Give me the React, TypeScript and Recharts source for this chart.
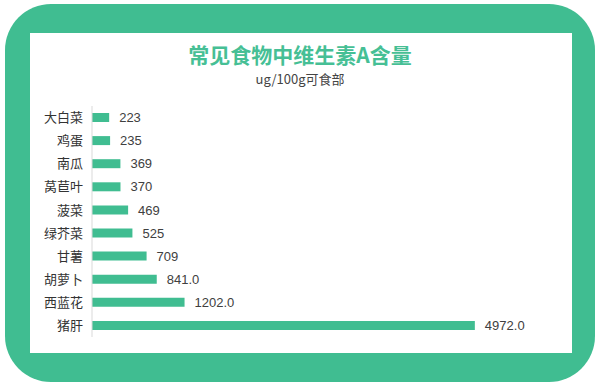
import React from "react";
import { BarChart, Bar, XAxis, YAxis, LabelList } from "recharts";

const categories = ["大白菜", "鸡蛋", "南瓜", "莴苣叶", "菠菜", "绿芥菜", "甘薯", "胡萝卜", "西蓝花", "猪肝"];
const values = [223, 235, 369, 370, 469, 525, 709, 841.0, 1202.0, 4972.0];
const valueLabels = ["223", "235", "369", "370", "469", "525", "709", "841.0", "1202.0", "4972.0"];

const GREEN = "#40bd91";
const data = categories.map((name, i) => ({ name, value: values[i], label: valueLabels[i] }));

export default function App() {
  return (
    <div style={{ position: "fixed", left: 0, top: 0, width: 600, height: 387, background: "#fff", overflow: "hidden" }}>
      <div style={{ position: "absolute", left: 5, top: 4, width: 590, height: 378, background: GREEN, borderRadius: 46 }} />
      <div style={{ position: "absolute", left: 30, top: 33, width: 542, height: 320, background: "#fff" }} />
      <div style={{ position: "absolute", left: 0, top: 43, width: 600, textAlign: "center", fontFamily: "'Noto Sans CJK SC', sans-serif", fontWeight: 700, fontSize: 21, color: "#46bf95", lineHeight: "22px" }}>
        常见食物中维生素A含量
      </div>
      <div style={{ position: "absolute", left: 0, top: 71, width: 600, textAlign: "center", fontFamily: "'Noto Sans CJK SC', sans-serif", fontSize: 13, color: "#444", lineHeight: "16px" }}>
        ug/100g可食部
      </div>
      <div style={{ position: "absolute", left: 0, top: 0 }}>
        <BarChart width={600} height={387} data={data} layout="vertical" margin={{ top: 106, right: 46, bottom: 50, left: 0 }}>
          <XAxis type="number" hide domain={[0, 6000]} />
          <YAxis
            type="category"
            dataKey="name"
            width={92}
            tickLine={false}
            tickSize={0}
            tickMargin={9}
            axisLine={{ stroke: "#d9d9d9" }}
            tick={{ fill: "#333", fontSize: 13, fontFamily: "'Noto Sans CJK SC', sans-serif" }}
          />
          <Bar dataKey="value" fill={GREEN} barSize={9} isAnimationActive={false}>
            <LabelList dataKey="label" position="right" offset={10} fill="#404040" fontSize={13} fontFamily="'Liberation Sans', Arial, sans-serif" />
          </Bar>
        </BarChart>
      </div>
    </div>
  );
}
